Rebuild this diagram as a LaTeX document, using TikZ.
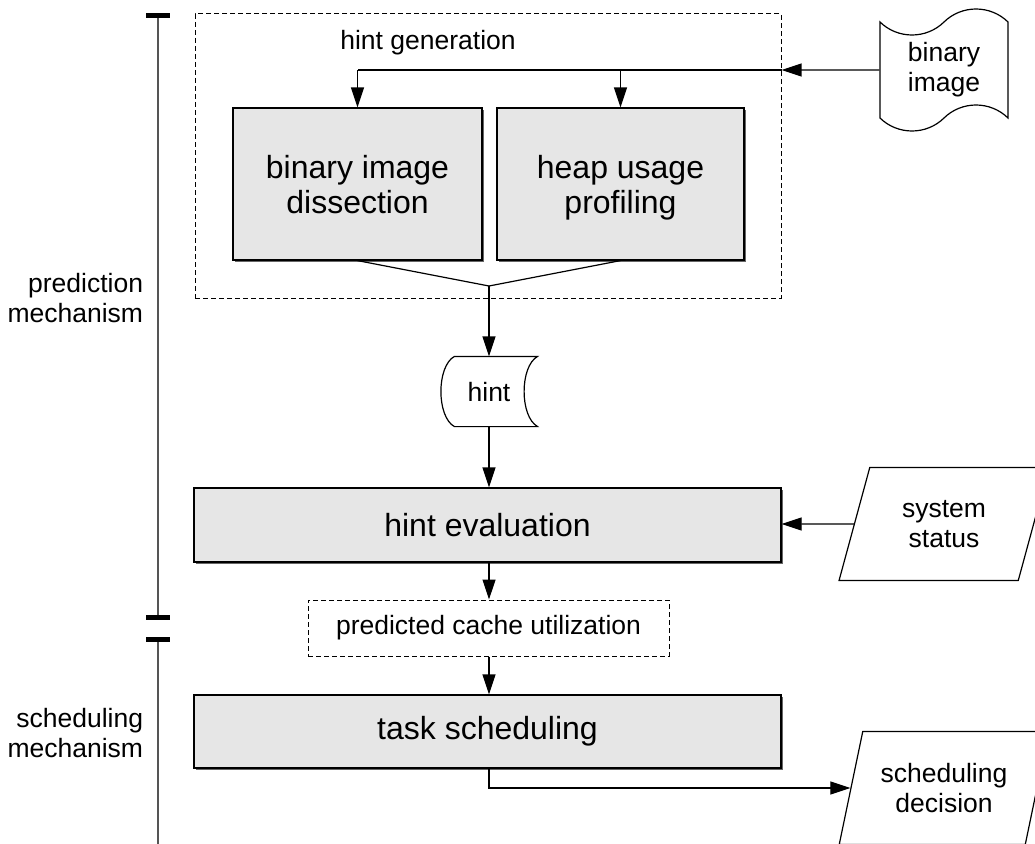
\documentclass[tikz,border=0pt]{standalone}
\usepackage{fontspec}
\setmainfont{Liberation Sans}
\usetikzlibrary{arrows.meta,shapes.geometric,shapes.symbols,shadows}
\definecolor{boxgray}{HTML}{E6E6E6}
\definecolor{rulegray}{HTML}{555555}

\begin{document}
\begin{tikzpicture}[x=1pt,y=-1pt,line width=1.2pt,
  big/.style={font=\fontsize{32}{35}\selectfont},
  small/.style={font=\fontsize{26.5}{30}\selectfont},
  procbox/.style={draw,fill=boxgray,inner sep=0pt,align=center,big,
    drop shadow={shadow xshift=1.6pt,shadow yshift=-1.6pt,fill=black!60,opacity=1}},
  dashbox/.style={draw,dash pattern=on 5pt off 3pt,line width=1pt,inner sep=0pt},
  iobox/.style={draw,trapezium,trapezium left angle=70.5,trapezium right angle=109.5,
    trapezium stretches=true,minimum width=210pt,minimum height=113pt,
    inner sep=2pt,align=center,small},
  arr/.style={-{Triangle[length=20pt,width=13pt]}},
  sidelabel/.style={anchor=east,align=right,small},
  bar/.style={line width=5pt},
  spine/.style={draw=rulegray,line width=2pt}]

\useasboundingbox (0,0) rectangle (1035,843);

% phase bracket on the left
\draw[spine] (158,15) -- (158,617);
\draw[spine] (158,639) -- (158,850);
\draw[bar] (146,15.5) -- (170,15.5);
\draw[bar] (146,617) -- (170,617);
\draw[bar] (146,639) -- (170,639);
\node[sidelabel] (lpred) at (147,298) {prediction\\mechanism};
\node[sidelabel] (lsched) at (147,733) {scheduling\\mechanism};

% hint generation stage
\node[dashbox,minimum width=586pt,minimum height=284pt] (hg) at (488,156) {};
\node[small] (hglabel) at (428,43) {hint generation};
\node[procbox,text depth=0pt,minimum width=249pt,minimum height=152pt] (b1) at (357.5,184) {binary image\\dissection};
\node[procbox,text depth=0pt,minimum width=247pt,minimum height=152pt] (b2) at (620.5,184) {heap usage\\profiling};

% binary image input (punched tape)
\node[draw,tape,tape bend top=in and out,tape bend bottom=in and out,
  tape bend height=26pt,minimum width=128pt,minimum height=122pt,
  inner sep=0pt,align=center,small] (bi) at (944,70) {binary\\image};

\coordinate (split) at (hg.east |- bi);
\draw[arr] (bi) -- (split);
\draw (split) -- (b1.north |- split);
\draw[arr] (b1.north |- split) -- (b1.north);
\draw[arr] (b2.north |- split) -- (b2.north);

% merge of both results into the hint
\coordinate (merge) at (489,286);
\draw (b1.south) -- (merge) -- (b2.south);

\node[minimum width=96pt,minimum height=69pt,inner sep=0pt,small] (hint) at (489,391.5) {hint};
\draw ([xshift=14pt]hint.north west) -- (hint.north east)
  .. controls +(-18,10) and +(-18,-10) .. (hint.south east)
  -- ([xshift=14pt]hint.south west)
  .. controls +(-18,-10) and +(-18,10) .. cycle;
\draw[arr] (merge) -- (hint.north);

% hint evaluation
\node[procbox,minimum width=587pt,minimum height=74pt] (he) at (487.5,525) {hint evaluation};
\draw[arr] (hint.south) -- (hint.south |- he.north);
\node[iobox] (ss) at (944,524) {system\\status};
\draw[arr] (ss) -- (he.east |- ss);

% predicted cache utilization
\node[dashbox,minimum width=361pt,minimum height=56pt,small] (pc) at (488.5,628) {predicted cache utilization};
\draw[arr] (hint.south |- he.south) -- (hint.south |- pc.north);

% task scheduling
\node[procbox,minimum width=587pt,minimum height=73pt] (ts) at (487.5,731.5) {task scheduling};
\draw[arr] (hint.south |- pc.south) -- (hint.south |- ts.north);
\node[iobox] (sd) at (944,788) {scheduling\\decision};
\draw[arr] (hint.south |- ts.south) |- (sd);

\end{tikzpicture}
\end{document}
